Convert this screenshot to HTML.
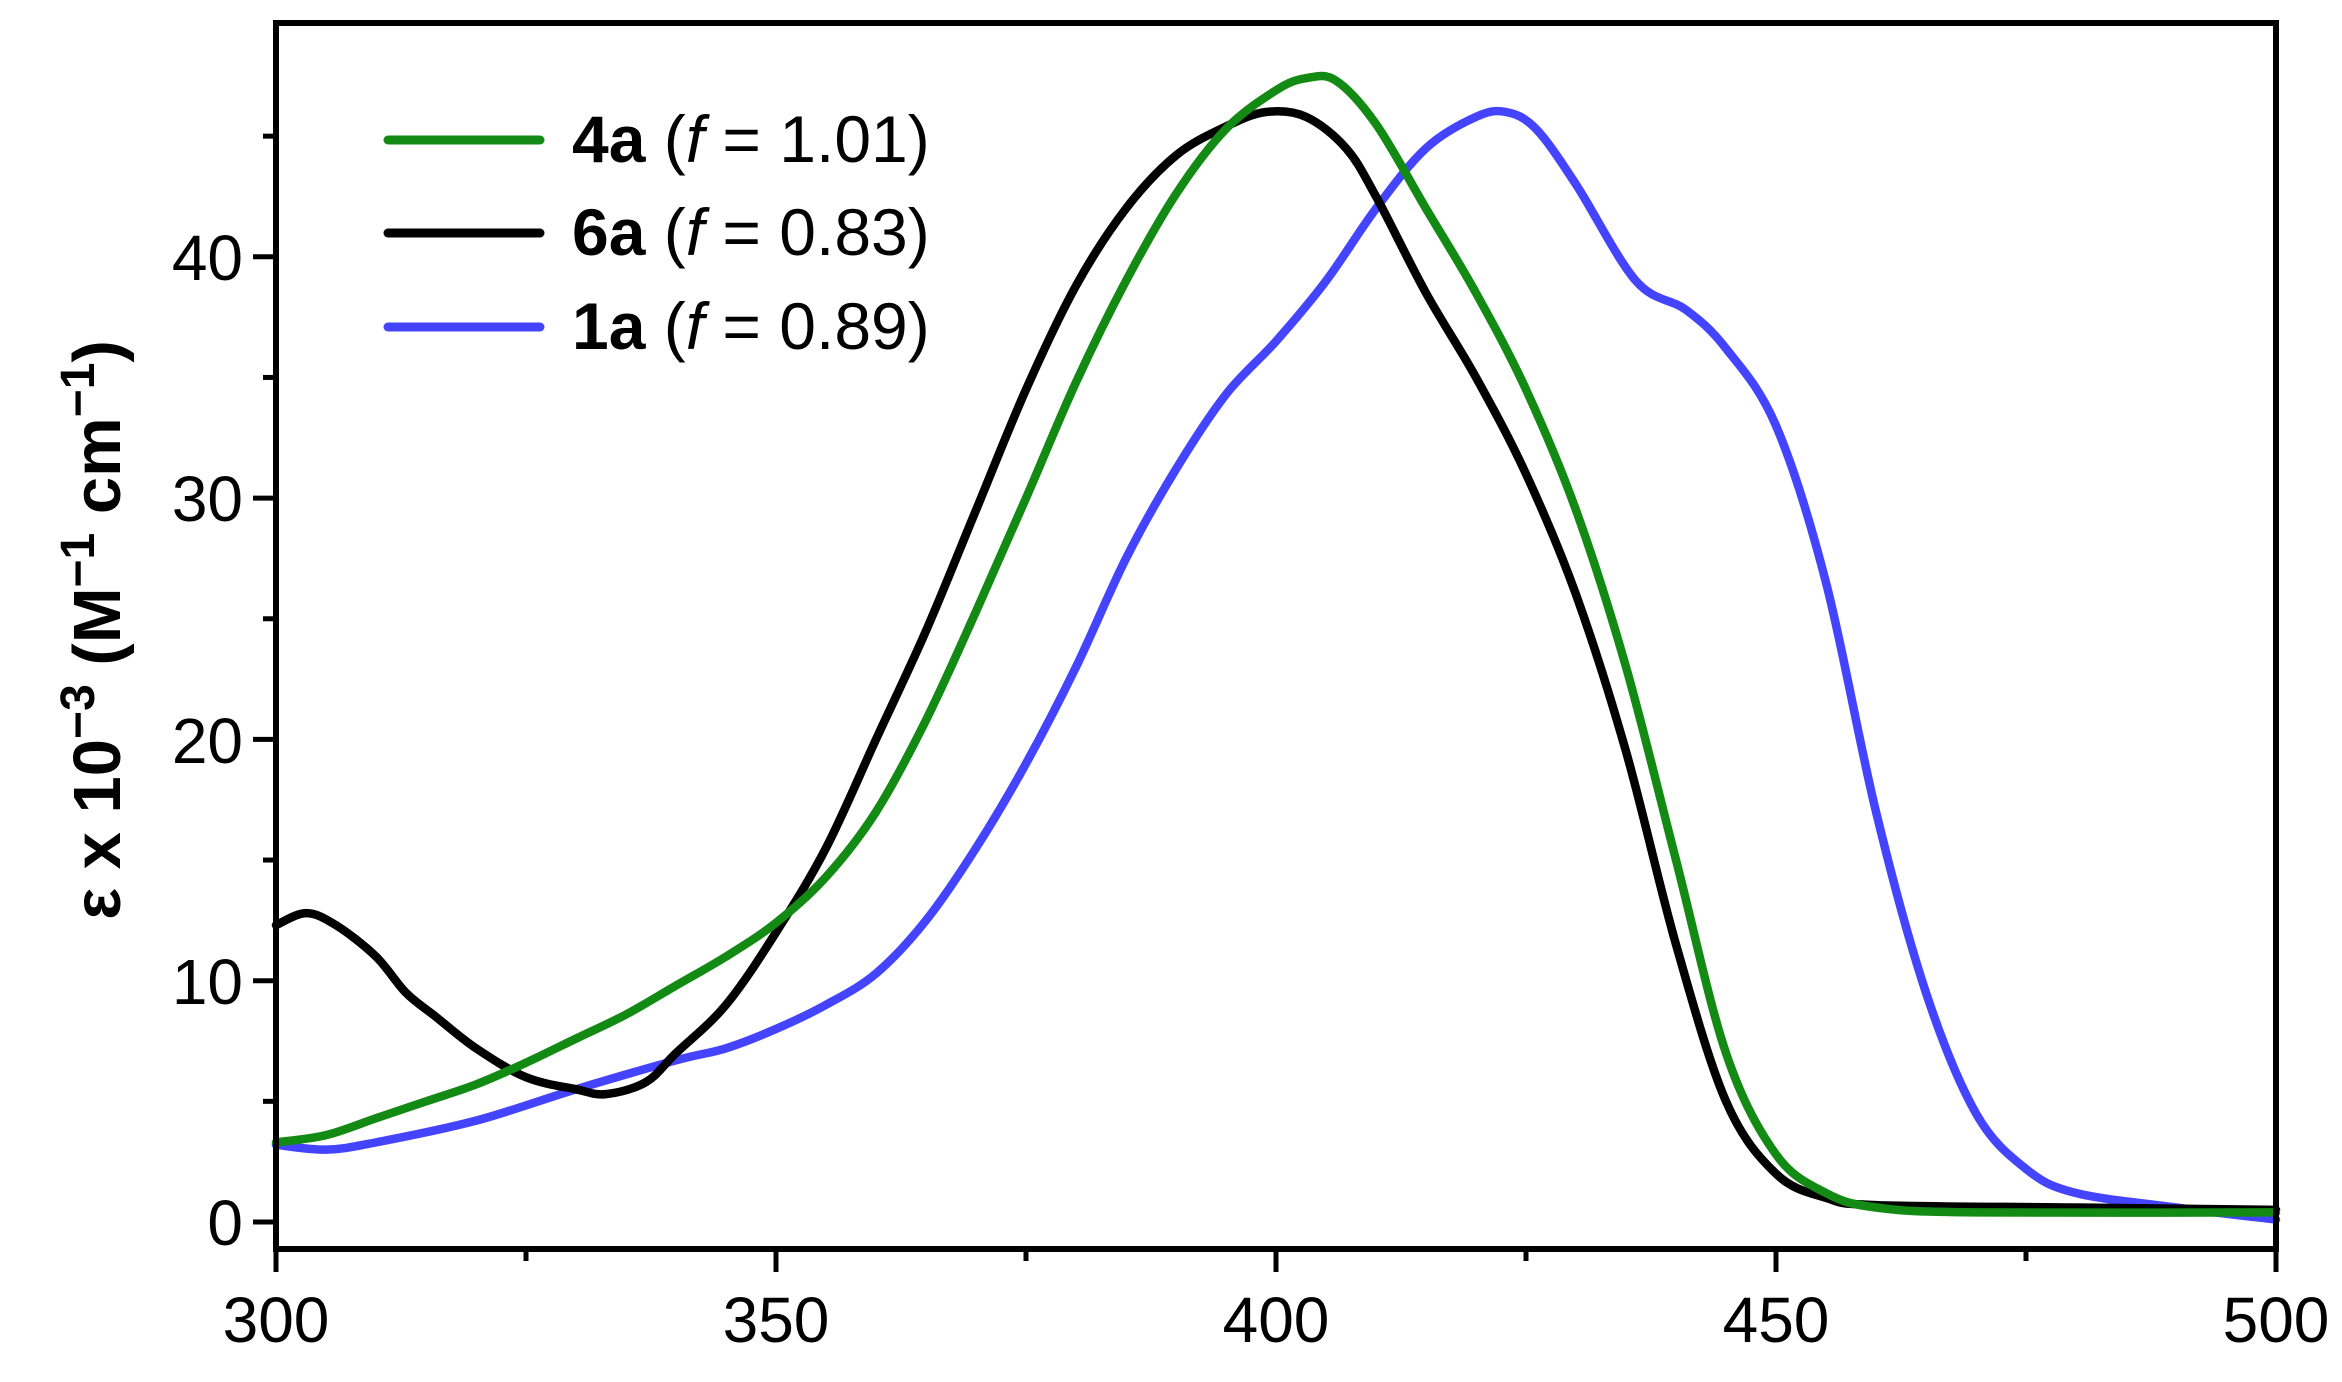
<!DOCTYPE html>
<html><head><meta charset="utf-8"><style>
html,body{margin:0;padding:0;background:#fff;}
svg{display:block;}
text{font-family:"Liberation Sans",Arial,sans-serif;}
</style></head><body>
<svg id="s" width="2342" height="1382" viewBox="0 0 2342 1382" xmlns="http://www.w3.org/2000/svg">
<rect x="0" y="0" width="2342" height="1382" fill="#fff"/>
<g id="curves" fill="none" stroke-width="8.5" stroke-linejoin="round" stroke-linecap="round"></g>
<rect x="276" y="23" width="2000" height="1226" fill="none" stroke="#000" stroke-width="6"/>
<g id="ticks" stroke="#000" stroke-width="5"></g>
<g font-size="64" fill="#000">
<text x="276" y="1342" text-anchor="middle">300</text>
<text x="776" y="1342" text-anchor="middle">350</text>
<text x="1276" y="1342" text-anchor="middle">400</text>
<text x="1776" y="1342" text-anchor="middle">450</text>
<text x="2276" y="1342" text-anchor="middle">500</text>
<text x="243" y="1245" text-anchor="end">0</text>
<text x="243" y="1004" text-anchor="end">10</text>
<text x="243" y="763" text-anchor="end">20</text>
<text x="243" y="521" text-anchor="end">30</text>
<text x="243" y="280" text-anchor="end">40</text>
</g>
<text transform="translate(120,630) rotate(-90)" text-anchor="middle" font-size="67" font-weight="bold">ε x 10<tspan dy="-26" font-size="48">−3</tspan><tspan dy="26"> (M</tspan><tspan dy="-26" font-size="48">−1</tspan><tspan dy="26"> cm</tspan><tspan dy="-26" font-size="48">−1</tspan><tspan dy="26">)</tspan></text>
<g stroke-width="9" stroke-linecap="round">
<line x1="388" y1="140" x2="540" y2="140" stroke="#138a13"/>
<line x1="388" y1="233" x2="540" y2="233" stroke="#000"/>
<line x1="388" y1="327" x2="540" y2="327" stroke="#4444ff"/>
</g>
<g font-size="66" fill="#000">
<text x="572" y="162"><tspan font-weight="bold">4a</tspan> (<tspan font-style="italic">f</tspan> = 1.01)</text>
<text x="572" y="255"><tspan font-weight="bold">6a</tspan> (<tspan font-style="italic">f</tspan> = 0.83)</text>
<text x="572" y="349"><tspan font-weight="bold">1a</tspan> (<tspan font-style="italic">f</tspan> = 0.89)</text>
</g>
</svg>
<script>
var X=function(l){return 276+(l-300)*10.0;},Y=function(v){return 1222-v*24.13;};
var t=document.getElementById('ticks'),h='';
for(var v=0;v<=45;v+=5){var y=Y(v),L=(v%10==0)?23:13;h+='<line x1="'+(276-L)+'" y1="'+y+'" x2="276" y2="'+y+'"/>';}
for(var l=300;l<=500;l+=25){var x=X(l),L=(l%50==0)?23:12;h+='<line x1="'+x+'" y1="1249" x2="'+x+'" y2="'+(1249+L)+'"/>';}
t.innerHTML=h;
var G=[[300,3.3],[305,3.6],[310,4.3],[315,5.0],[320,5.7],[325,6.6],[330,7.6],[335,8.6],[340,9.8],[345,11.0],[350,12.4],[355,14.3],[360,17.0],[365,20.8],[370,25.3],[375,30.0],[380,34.8],[385,39.0],[390,42.6],[395,45.3],[400,46.9],[403,47.4],[406,47.3],[410,45.5],[415,42.0],[420,38.5],[425,34.5],[430,29.5],[435,23.0],[440,15.0],[445,7.0],[450,2.8],[455,1.2],[460,0.6],[470,0.4],[500,0.4]];
var B=[[300,12.3],[303,12.8],[306,12.3],[310,11.0],[313,9.5],[316,8.5],[320,7.2],[325,6.0],[330,5.5],[333,5.3],[337,5.8],[340,7.0],[345,9.0],[350,12.0],[355,15.5],[360,20.0],[365,24.5],[370,29.5],[375,34.5],[380,38.8],[385,42.0],[390,44.2],[395,45.4],[399,46.0],[403,45.8],[407,44.5],[410,42.5],[415,38.5],[420,35.0],[425,31.0],[430,26.0],[435,19.5],[440,11.5],[445,5.0],[450,2.0],[455,1.0],[460,0.7],[480,0.6],[500,0.5]];
var U=[[300,3.2],[305,3.0],[310,3.3],[320,4.2],[330,5.5],[340,6.7],[345,7.2],[350,8.0],[355,9.0],[360,10.3],[365,12.5],[370,15.5],[375,19.0],[380,23.0],[385,27.5],[390,31.2],[395,34.3],[400,36.5],[405,39.0],[410,42.0],[415,44.5],[420,45.8],[423,46.0],[426,45.3],[430,43.0],[436,39.0],[441,37.8],[445,36.2],[450,33.0],[455,26.5],[460,17.0],[465,9.5],[470,4.5],[475,2.2],[480,1.2],[490,0.6],[500,0.1]];
function path(d){var p=d.map(function(a){return [X(a[0]),Y(a[1])];});var s='M'+p[0][0]+' '+p[0][1];
for(var i=0;i<p.length-1;i++){var p0=p[i-1]||p[i],p1=p[i],p2=p[i+1],p3=p[i+2]||p2;
s+=' C'+(p1[0]+(p2[0]-p0[0])/6)+' '+(p1[1]+(p2[1]-p0[1])/6)+' '+(p2[0]-(p3[0]-p1[0])/6)+' '+(p2[1]-(p3[1]-p1[1])/6)+' '+p2[0]+' '+p2[1];}return s;}
var c=document.getElementById('curves');
c.innerHTML='<path d="'+path(U)+'" stroke="#4444ff"/><path d="'+path(B)+'" stroke="#000"/><path d="'+path(G)+'" stroke="#138a13"/>';
</script>
</body></html>
